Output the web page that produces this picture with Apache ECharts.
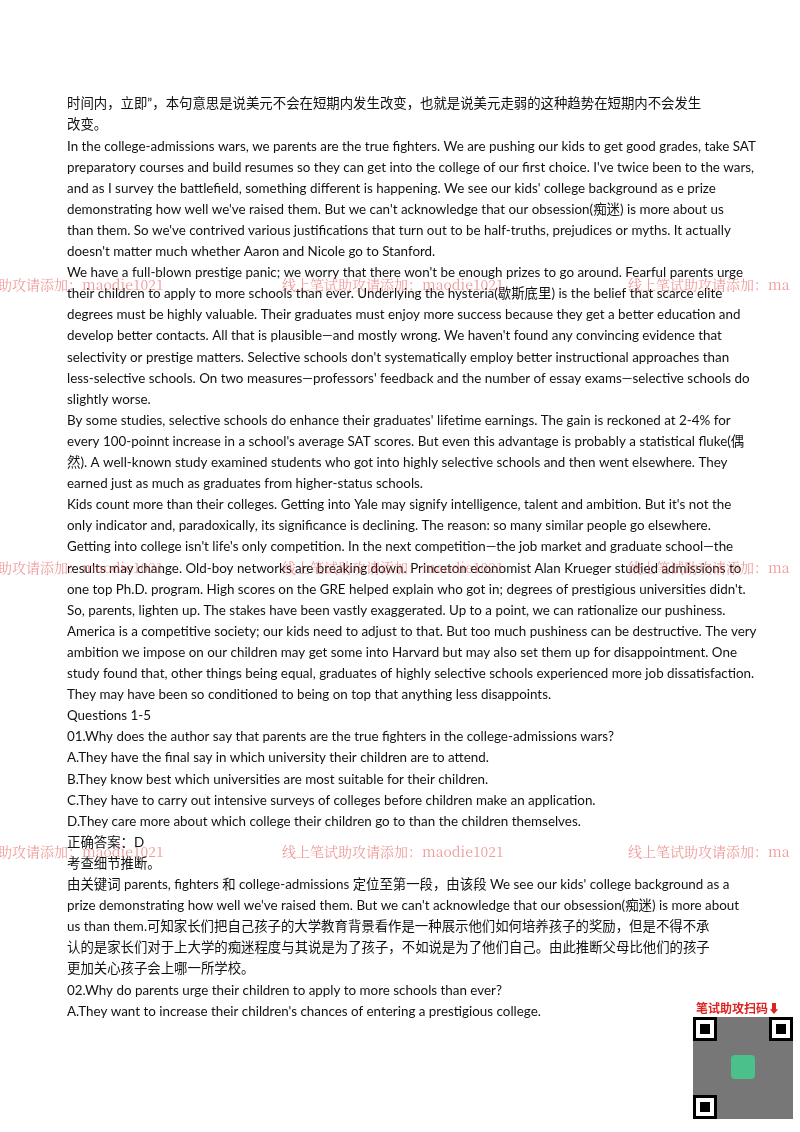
<!DOCTYPE html>
<html>
<head>
    <meta charset="UTF-8"/>
    <title>page</title>
    <style>
        html, body{ margin: 0; background: #fff; }
    </style>
    <script src="https://cdn.jsdelivr.net/npm/echarts@6/dist/echarts.min.js"></script>
</head>
<body>
<div id="container" style="width: 800px;height: 1132px;"></div>
<script>
  // page text, one entry per printed line
  var lines = [
    '时间内，立即”，本句意思是说美元不会在短期内发生改变，也就是说美元走弱的这种趋势在短期内不会发生',
    '改变。',
    'In the college-admissions wars, we parents are the true fighters. We are pushing our kids to get good grades, take SAT',
    'preparatory courses and build resumes so they can get into the college of our first choice. I\'ve twice been to the wars,',
    'and as I survey the battlefield, something different is happening. We see our kids\' college background as e prize',
    'demonstrating how well we\'ve raised them. But we can\'t acknowledge that our obsession(痴迷) is more about us',
    'than them. So we\'ve contrived various justifications that turn out to be half-truths, prejudices or myths. It actually',
    'doesn\'t matter much whether Aaron and Nicole go to Stanford.',
    'We have a full-blown prestige panic; we worry that there won\'t be enough prizes to go around. Fearful parents urge',
    'their children to apply to more schools than ever. Underlying the hysteria(歇斯底里) is the belief that scarce elite',
    'degrees must be highly valuable. Their graduates must enjoy more success because they get a better education and',
    'develop better contacts. All that is plausible—and mostly wrong. We haven\'t found any convincing evidence that',
    'selectivity or prestige matters. Selective schools don\'t systematically employ better instructional approaches than',
    'less-selective schools. On two measures—professors\' feedback and the number of essay exams—selective schools do',
    'slightly worse.',
    'By some studies, selective schools do enhance their graduates\' lifetime earnings. The gain is reckoned at 2-4% for',
    'every 100-poinnt increase in a school\'s average SAT scores. But even this advantage is probably a statistical fluke(偶',
    '然). A well-known study examined students who got into highly selective schools and then went elsewhere. They',
    'earned just as much as graduates from higher-status schools.',
    'Kids count more than their colleges. Getting into Yale may signify intelligence, talent and ambition. But it\'s not the',
    'only indicator and, paradoxically, its significance is declining. The reason: so many similar people go elsewhere.',
    'Getting into college isn\'t life\'s only competition. In the next competition—the job market and graduate school—the',
    'results may change. Old-boy networks are breaking down. Princeton economist Alan Krueger studied admissions to',
    'one top Ph.D. program. High scores on the GRE helped explain who got in; degrees of prestigious universities didn\'t.',
    'So, parents, lighten up. The stakes have been vastly exaggerated. Up to a point, we can rationalize our pushiness.',
    'America is a competitive society; our kids need to adjust to that. But too much pushiness can be destructive. The very',
    'ambition we impose on our children may get some into Harvard but may also set them up for disappointment. One',
    'study found that, other things being equal, graduates of highly selective schools experienced more job dissatisfaction.',
    'They may have been so conditioned to being on top that anything less disappoints.',
    'Questions 1-5',
    '01.Why does the author say that parents are the true fighters in the college-admissions wars?',
    'A.They have the final say in which university their children are to attend.',
    'B.They know best which universities are most suitable for their children.',
    'C.They have to carry out intensive surveys of colleges before children make an application.',
    'D.They care more about which college their children go to than the children themselves.',
    '正确答案：D',
    '考查细节推断。',
    '由关键词 parents, fighters 和 college-admissions 定位至第一段，由该段 We see our kids\' college background as a',
    'prize demonstrating how well we\'ve raised them. But we can\'t acknowledge that our obsession(痴迷) is more about',
    'us than them.可知家长们把自己孩子的大学教育背景看作是一种展示他们如何培养孩子的奖励，但是不得不承',
    '认的是家长们对于上大学的痴迷程度与其说是为了孩子，不如说是为了他们自己。由此推断父母比他们的孩子',
    '更加关心孩子会上哪一所学校。',
    '02.Why do parents urge their children to apply to more schools than ever?',
    'A.They want to increase their children\'s chances of entering a prestigious college.'
  ];
  // watermark rows and texts
  var markRows = [285, 568, 852];
  var markTexts = ['助攻请添加：maodie1021', '线上笔试助攻请添加：maodie1021', '线上笔试助攻请添加：ma'];
  var markCols = [-2, 282, 628];

  var font = 'Lato, "Noto Sans CJK SC", sans-serif';
  var elements = [];
  lines.forEach(function (t, i) {
      elements.push({
          type: 'text', x: 67, y: 104 + i * 21.1,
          style: { text: t, font: '13.4px ' + font, fill: '#111', textVerticalAlign: 'middle' }
      });
  });
  markRows.forEach(function (y) {
      markTexts.forEach(function (t, k) {
          elements.push({
              type: 'text', x: markCols[k], y: y,
              style: { text: t, font: '14px "Noto Serif CJK SC", "Noto Sans CJK SC", serif', fill: 'rgba(225,70,70,0.55)', textVerticalAlign: 'middle' }
          });
      });
  });
  // QR block
  elements.push({ type: 'text', x: 696, y: 1008, style: { text: '笔试助攻扫码⬇', font: 'bold 12px "Noto Sans CJK SC"', fill: '#d22', textVerticalAlign: 'middle' } });
  elements.push({ type: 'rect', shape: { x: 693, y: 1017, width: 100, height: 102 }, style: { fill: '#777' } });
  [[693, 1017], [769, 1017], [693, 1095]].forEach(function (p) {
      elements.push({ type: 'rect', shape: { x: p[0], y: p[1], width: 24, height: 24 }, style: { fill: '#000' } });
      elements.push({ type: 'rect', shape: { x: p[0] + 3, y: p[1] + 3, width: 18, height: 18 }, style: { fill: '#fff' } });
      elements.push({ type: 'rect', shape: { x: p[0] + 7, y: p[1] + 7, width: 10, height: 10 }, style: { fill: '#000' } });
  });
  elements.push({ type: 'rect', shape: { x: 731, y: 1055, width: 24, height: 24, r: 4 }, style: { fill: '#4cc08a' } });

  var myChart = echarts.init(document.getElementById('container'));
  myChart.setOption({ backgroundColor: '#fff', graphic: elements });
</script>
</body>
</html>
